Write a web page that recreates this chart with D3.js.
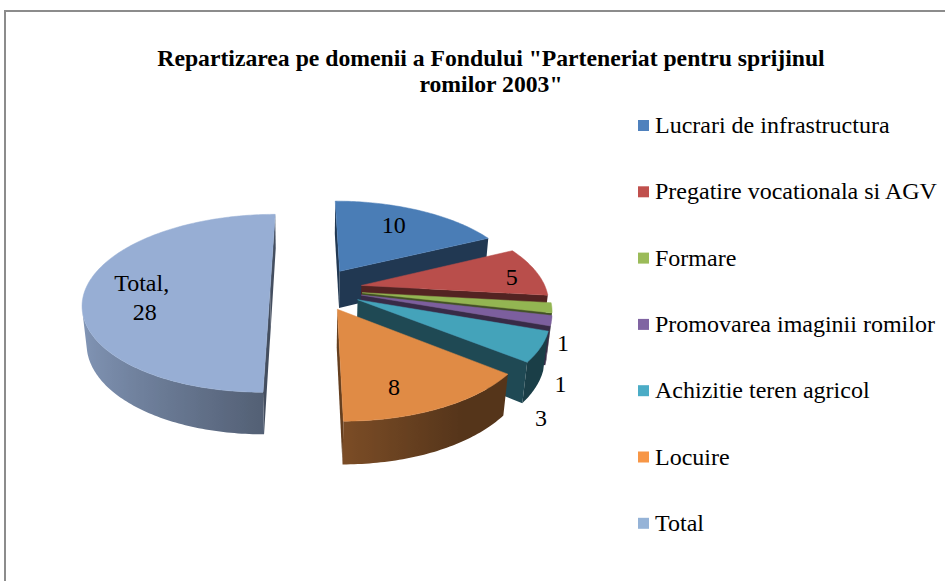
<!DOCTYPE html>
<html>
<head>
<meta charset="utf-8">
<script src="https://cdn.jsdelivr.net/npm/d3@7"></script>
<style>
  html, body { margin: 0; padding: 0; background: #fff; }
  svg { display: block; }
  text { font-family: "Liberation Serif", "Times New Roman", serif; fill: #000; }
</style>
</head>
<body>
<svg id="chart" width="945" height="581"></svg>
<script>
// data
const titleLines = ['Repartizarea pe domenii a Fondului "Parteneriat pentru sprijinul', 'romilor 2003"'];
const categories = ["Lucrari de infrastructura", "Pregatire vocationala si AGV", "Formare",
                    "Promovarea imaginii romilor", "Achizitie teren agricol", "Locuire", "Total"];
const values = [10, 5, 1, 1, 3, 8, 28];

// colours
const topColors = ["#4a7db6", "#b94e4b", "#93b552", "#7c5f9e", "#44a3ba", "#e08b45", "#97aed4"];
const legendColors = ["#4f81bd", "#c0504d", "#9bbb59", "#8064a2", "#4bacc6", "#f79646", "#95b3d7"];

// where the value labels sit (radius on the pie, level: 0 = top face, 1 = bottom edge) + nudge in px
const labelRadius = [0.62, 0.8, 1.0, 1.0, 0.95, 0.7, 0.62];
const labelLevel  = [0, 0, 1, 1, 1, 0, 0];
const labelNudge  = [[2, -7], [10, 3], [16, -3], [14, 24], [15, 33], [-12, 12], [-14, 8]];

const svg = d3.select("#chart");
const defs = svg.append("defs");

// frame
svg.append("rect")
    .attr("x", 5).attr("y", 11)
    .attr("width", 960).attr("height", 600)
    .attr("fill", "none")
    .attr("stroke", "#8c8c8c")
    .attr("stroke-width", 2);

// title
svg.append("g").selectAll("text")
    .data(titleLines)
    .enter().append("text")
    .attr("x", 491)
    .attr("y", (d, i) => 66 + i * 26)
    .attr("text-anchor", "middle")
    .style("font-size", "23.7px")
    .style("font-weight", "bold")
    .text(d => d);

// ---- 3d pie: simple perspective camera ----
const view = { f: 1015, D: 5.5, tilt: 28 * Math.PI / 180, x0: 307, y0: 289, camX: -0.05 };
const thick = 0.235;   // height of the pie (pie radius = 1)
const explode = 0.25;  // every slice pulled out by this much
const sinT = Math.sin(view.tilt), cosT = Math.cos(view.tilt);
const camPos = [view.camX, view.D * sinT, view.D * cosT];

function project(X, Y, Z) {
    const depth = view.D - Y * sinT - Z * cosT;
    const yc = Y * cosT - Z * sinT;
    return [view.x0 + view.f * (X - view.camX) / depth, view.y0 - view.f * yc / depth, depth];
}

const pie = d3.pie().sort(null).value(d => d)(values);
const slices = pie.map(function(p, i) {
    const mid = (p.startAngle + p.endAngle) / 2;
    return { i: i, a0: p.startAngle, a1: p.endAngle, mid: mid,
             ox: explode * Math.sin(mid), oz: -explode * Math.cos(mid) };
});

// world point of a slice: angle a (clockwise from 12 o'clock), radius r, height Y
function world(s, a, r, Y) {
    return [s.ox + r * Math.sin(a), Y, s.oz - r * Math.cos(a)];
}
function pt(s, a, r, Y) {
    const w = world(s, a, r, Y);
    return project(w[0], w[1], w[2]);
}
function facing(n, w) {
    return n[0] * (camPos[0] - w[0]) + n[1] * (camPos[1] - w[1]) + n[2] * (camPos[2] - w[2]) > 0;
}
function shade(c, k) {
    return d3.interpolateRgb(c, "#000")(Math.max(0.08, Math.min(0.62, k)));
}

let sides = [];
slices.forEach(function(s) {
    const base = topColors[s.i];
    // curved outside wall: find the part that faces the camera
    const n = Math.ceil((s.a1 - s.a0) / (1 * Math.PI / 180));
    let vis = [];
    for (let j = 0; j <= n; j++) {
        const a = s.a0 + (s.a1 - s.a0) * j / n;
        if (facing([Math.sin(a), 0, -Math.cos(a)], world(s, a, 1, -thick / 2))) vis.push(a);
    }
    if (vis.length > 1) {
        const topArc = vis.map(a => pt(s, a, 1, 0));
        const botArc = vis.map(a => pt(s, a, 1, -thick)).reverse();
        const pts = topArc.concat(botArc);
        const xs = topArc.map(p => p[0]);
        const xmin = d3.min(xs), xmax = d3.max(xs);
        const id = "side" + s.i;
        const grad = defs.append("linearGradient")
            .attr("id", id)
            .attr("gradientUnits", "userSpaceOnUse")
            .attr("x1", xmin).attr("x2", xmax).attr("y1", 0).attr("y2", 0);
        vis.map((a, j) => ({ off: (xs[j] - xmin) / Math.max(1, xmax - xmin), c: shade(base, 0.45 + 0.32 * Math.sin(a)) }))
            .sort((a, b) => a.off - b.off)
            .forEach(function(st) { grad.append("stop").attr("offset", st.off).attr("stop-color", st.c); });
        sides.push({ pts: pts, fill: "url(#" + id + ")", depth: d3.mean(pts, p => p[2]) });
    }
    // flat walls at both cut edges
    const walls = [
        { a: s.a1, n: [Math.cos(s.a1), 0, Math.sin(s.a1)] },
        { a: s.a0, n: [-Math.cos(s.a0), 0, -Math.sin(s.a0)] }
    ];
    walls.forEach(function(w) {
        if (!facing(w.n, world(s, w.a, 0.5, -thick / 2))) return;
        const pts = [pt(s, w.a, 0, 0), pt(s, w.a, 1, 0), pt(s, w.a, 1, -thick), pt(s, w.a, 0, -thick)];
        sides.push({ pts: pts, fill: shade(base, 0.55), depth: d3.mean(pts, p => p[2]) });
    });
});
sides.sort((a, b) => b.depth - a.depth);

const tops = slices.map(function(s) {
    const n = Math.ceil((s.a1 - s.a0) / (1 * Math.PI / 180));
    let pts = [pt(s, 0, 0, 0)];
    for (let j = 0; j <= n; j++) pts.push(pt(s, s.a0 + (s.a1 - s.a0) * j / n, 1, 0));
    return { pts: pts, fill: topColors[s.i], depth: d3.mean(pts, p => p[2]) };
}).sort((a, b) => b.depth - a.depth);

const line = d3.line().x(d => d[0]).y(d => d[1]);

svg.append("g").attr("class", "sides")
    .selectAll("path")
    .data(sides)
    .enter().append("path")
    .attr("d", d => line(d.pts) + "Z")
    .attr("fill", d => d.fill);

svg.append("g").attr("class", "tops")
    .selectAll("path")
    .data(tops)
    .enter().append("path")
    .attr("d", d => line(d.pts) + "Z")
    .attr("fill", d => d.fill)
    .attr("stroke", d => d.fill)
    .attr("stroke-width", 0.5);

// value labels
const labels = svg.append("g").attr("class", "labels")
    .selectAll("text")
    .data(slices)
    .enter().append("text")
    .attr("text-anchor", "middle")
    .style("font-size", "24px")
    .attr("transform", function(s) {
        const p = pt(s, s.mid, labelRadius[s.i], -thick * labelLevel[s.i]);
        return "translate(" + (p[0] + labelNudge[s.i][0]) + "," + (p[1] + labelNudge[s.i][1]) + ")";
    });

labels.each(function(s) {
    const t = d3.select(this);
    if (categories[s.i] === "Total") {
        t.append("tspan").attr("x", 0).attr("y", -6).text(categories[s.i] + ",");
        t.append("tspan").attr("x", 3).attr("y", 23).text(values[s.i]);
    } else {
        t.append("tspan").attr("x", 0).attr("y", 8).text(values[s.i]);
    }
});

// legend
const legend = svg.append("g").attr("class", "legend")
    .selectAll("g")
    .data(categories)
    .enter().append("g")
    .attr("transform", (d, i) => "translate(638," + (120 + i * 66.3) + ")");

legend.append("rect")
    .attr("width", 11).attr("height", 11)
    .attr("fill", (d, i) => legendColors[i]);

legend.append("text")
    .attr("x", 17).attr("y", 13)
    .style("font-size", "24px")
    .text(d => d);
</script>
</body>
</html>
